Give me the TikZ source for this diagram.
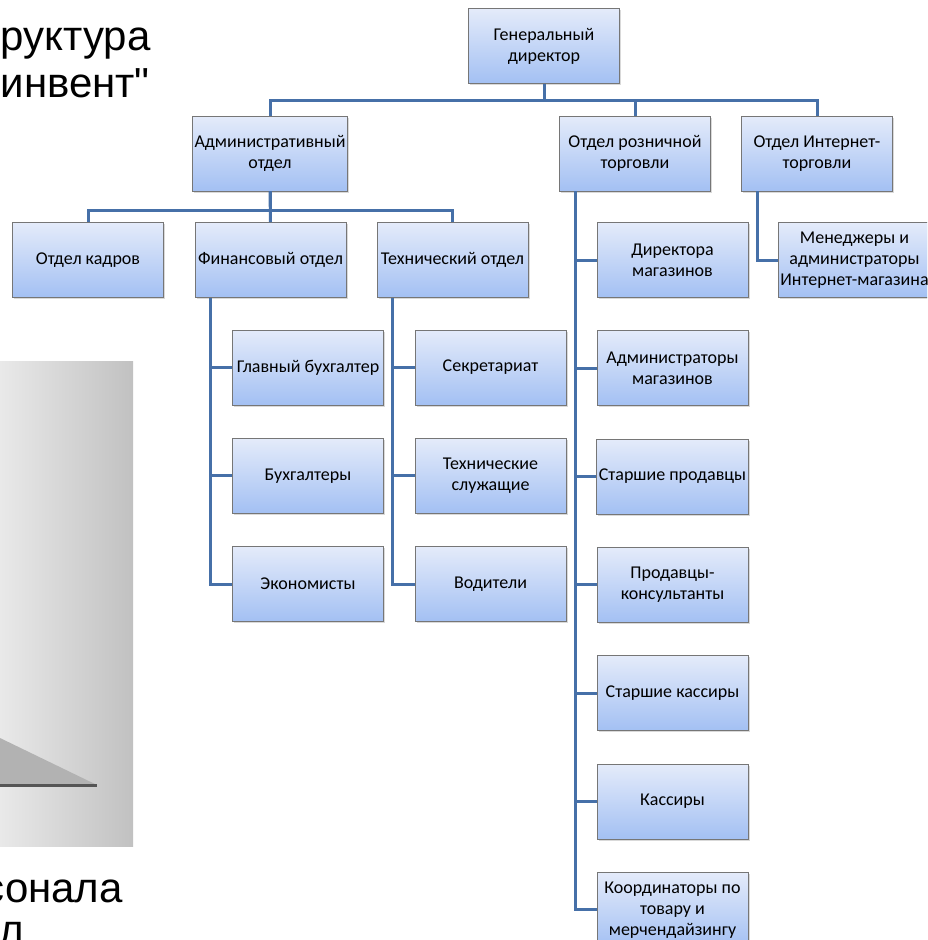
\documentclass[tikz,border=0pt]{standalone}
\usepackage{fontspec}
\setmainfont{Carlito}
\newfontfamily\slidefont{Liberation Sans}[Ligatures=TeXOff]
\usetikzlibrary{positioning, shadows}
\definecolor{boxtop}{RGB}{228,235,250}
\definecolor{boxbottom}{RGB}{163,192,243}
\definecolor{boxline}{RGB}{118,118,118}
\definecolor{linkblue}{RGB}{70,112,168}
\definecolor{panelleft}{RGB}{233,233,233}
\definecolor{panelright}{RGB}{193,193,193}
\definecolor{panelwedge}{RGB}{178,178,178}
\definecolor{panelrule}{RGB}{85,85,85}
\tikzset{
 unit/.style={draw=boxline, shape=rectangle, line width=0.8pt,
    top color=boxtop, bottom color=boxbottom,
    minimum width=151pt, minimum height=75pt, inner sep=2pt, align=center,
    font=\fontsize{18}{21}\selectfont,
    drop shadow={shadow xshift=1.5pt, shadow yshift=-1.5pt, opacity=0.3}}
}

\begin{document}
\begin{tikzpicture}[x=1pt, y=-1pt]
\tikzstyle{connect}=[line width=3pt, draw=linkblue]
\tikzstyle{slidetext}=[inner sep=0pt, font=\slidefont\fontsize{42}{47}\selectfont]
\useasboundingbox (0,0) rectangle (927,940);
\clip (0,0) rectangle (927,940);
% 1. Slide leftovers
%%%%%%%%%%
\shade[left color=panelleft, right color=panelright] (0,361) rectangle (133,846);
\fill[panelwedge] (0,738) -- (97,785) -- (0,785) -- cycle;
\draw[line width=3pt, panelrule] (0,785) -- (97,785);
\node[slidetext, anchor=base west] (ttl1) at (0.5,50) {руктура};
\node[slidetext, anchor=base west] (ttl2) at (0.5,97) {инвент"};
\node[slidetext, anchor=base east] (cap1) at (123,902) {сонала};
\node[slidetext, anchor=base west] (cap2) at (-1,944) {л};
% 2. Nodes
%%%%%%%%%%
\tikzset{node distance=32.5pt}
\node[unit] (gd) at (544,46) {Генеральный\\директор};
\node[unit] (adm) at (270,153.5) {Административный\\отдел};
\node[unit] (ret) at (635,153.5) {Отдел розничной\\торговли};
\node[unit] (inet) at (817,153.5) {Отдел Интернет-\\торговли};

\node[unit] (kadr) at (88,260) {Отдел кадров};
\node[unit] (fin) at (270.5,260) {Финансовый отдел};
\node[unit] (tech) at (452.5,260) {Технический отдел};
\node[unit] (dirm) at (672.5,260) {Директора\\магазинов};
\node[unit] (mgr) at (854.5,260) {Менеджеры и\\администраторы\\Интернет-магазина};

\node[unit] (glb) at (308,367.5) {Главный бухгалтер};
\node[unit] (buh) [below=of glb] {Бухгалтеры};
\node[unit] (econ) [below=of buh] {Экономисты};

\node[unit] (secr) at (490.5,367.5) {Секретариат};
\node[unit] (serv) [below=of secr] {Технические\\служащие};
\node[unit] (drv) [below=of serv] {Водители};

\node[unit] (admm) [below=of dirm] {Администраторы\\магазинов};
\node[unit] (sprod) [below=of admm] {Старшие продавцы};
\node[unit] (cons) [below=of sprod] {Продавцы-\\консультанты};
\node[unit] (skas) [below=of cons] {Старшие кассиры};
\node[unit] (kas) [below=of skas] {Кассиры};
\node[unit] (koord) [below=of kas] {Координаторы по\\товару и\\мерчендайзингу};

\coordinate (finbus) at ([xshift=-60pt]fin.south);
\coordinate (techbus) at ([xshift=-60pt]tech.south);
\coordinate (retbus) at ([xshift=-60pt]ret.south);
\coordinate (inetbus) at ([xshift=-60pt]inet.south);
% 3. Lines
%%%%%%%%%%%
\draw[connect] (gd.south) -- ++(0,17) -| (adm.north);
\draw[connect] (gd.south) -- ++(0,17) -| (ret.north);
\draw[connect] (gd.south) -- ++(0,17) -| (inet.north);
\draw[connect] (adm.south) -- ++(0,19) -| (kadr.north);
\draw[connect] (adm.south) -- (fin.north);
\draw[connect] (adm.south) -- ++(0,19) -| (tech.north);
\draw[connect] (inetbus) |- (mgr.west);
\draw[connect] (finbus) |- (glb.west);
\draw[connect] (finbus) |- (buh.west);
\draw[connect] (finbus) |- (econ.west);
\draw[connect] (techbus) |- (secr.west);
\draw[connect] (techbus) |- (serv.west);
\draw[connect] (techbus) |- (drv.west);
\draw[connect] (retbus) |- (dirm.west);
\draw[connect] (retbus) |- (admm.west);
\draw[connect] (retbus) |- (sprod.west);
\draw[connect] (retbus) |- (cons.west);
\draw[connect] (retbus) |- (skas.west);
\draw[connect] (retbus) |- (kas.west);
\draw[connect] (retbus) |- (koord.west);
\end{tikzpicture}
\end{document}
